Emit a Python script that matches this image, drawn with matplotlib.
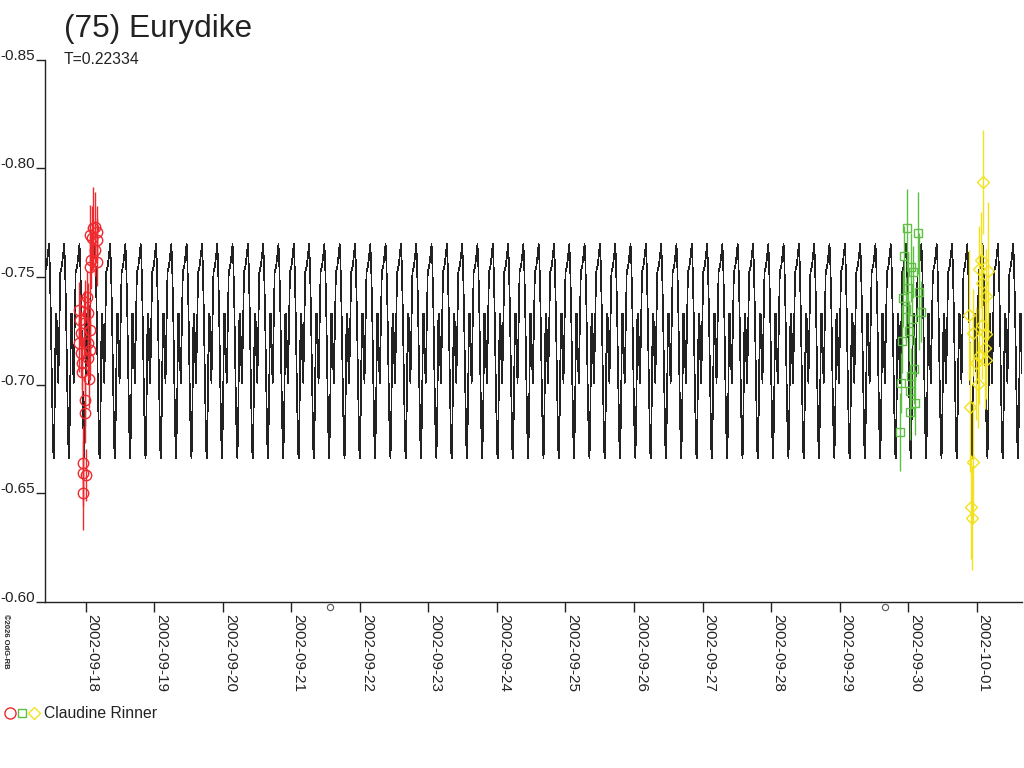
import numpy as np
import matplotlib
matplotlib.use("Agg")
import matplotlib.pyplot as plt
import matplotlib.dates as mdates
from matplotlib.lines import Line2D

plt.rcParams['font.family'] = ['Liberation Sans', 'DejaVu Sans']
plt.rcParams['axes.unicode_minus'] = False

# ---------------- data ----------------
title = "(75) Eurydike"
period_label = "T=0.22334"
observer = "Claudine Rinner"
base_date = np.datetime64('2002-09-18T00:00')

period = 0.22334          # days
epoch_peak = 1.0257       # days after base_date (a maximum of the model)

# one period of the model light-curve (phase, magnitude)
model_phase = [0.00, 0.05, 0.12, 0.20, 0.28, 0.32, 0.38, 0.45, 0.50,
               0.56, 0.62, 0.68, 0.75, 0.85, 0.93]
model_mag = [-0.765, -0.757, -0.735, -0.700, -0.670, -0.666, -0.690, -0.733, -0.733,
             -0.712, -0.701, -0.725, -0.752, -0.755, -0.760]

# session 1 (red circles), time in days after base_date
red_t = [0.102, 0.136, 0.063, 0.160, 0.087, 0.169, 0.136, 0.073, 0.169, 0.063,
         0.015, -0.010, -0.093, 0.038, -0.083, -0.025, 0.063, -0.073, 0.038, -0.093,
         0.063, -0.073, 0.038, -0.058, -0.058, 0.052, -0.010, -0.010, -0.044, -0.035,
         0.004, -0.035]
red_mag = [-0.7723, -0.7730, -0.7692, -0.7707, -0.7677, -0.7669, -0.7623, -0.7577,
           -0.7569, -0.7546, -0.7407, -0.7384, -0.7346, -0.7331, -0.7300, -0.7284,
           -0.7253, -0.7238, -0.7192, -0.7192, -0.7161, -0.7146, -0.7123, -0.7100,
           -0.7061, -0.7026, -0.6930, -0.6872, -0.6641, -0.6592, -0.6584, -0.6500]
red_err = [0.019, 0.016, 0.014, 0.012, 0.015, 0.010, 0.012, 0.013, 0.011, 0.014,
           0.012, 0.010, 0.013, 0.014, 0.012, 0.015, 0.011, 0.010, 0.012, 0.013,
           0.014, 0.011, 0.010, 0.012, 0.011, 0.013, 0.012, 0.014, 0.017, 0.015,
           0.012, 0.017]

# session 2 (green squares)
green_t = [11.983, 12.147, 11.943, 12.041, 12.064, 11.929, 12.161, 12.187, 12.055,
           11.910, 12.089, 12.041, 11.895, 12.031, 12.104, 12.026, 11.880,
           12.000, 12.015, 11.965]
green_mag = [-0.7726, -0.7703, -0.7595, -0.7543, -0.7523, -0.7400, -0.7430, -0.7338,
             -0.7304, -0.7204, -0.7072, -0.7041, -0.7010, -0.6973, -0.6918, -0.6876,
             -0.6784, -0.7450, -0.7250, -0.7350]
green_err = [0.018, 0.019, 0.014, 0.016, 0.012, 0.013, 0.027, 0.014, 0.012, 0.015,
             0.016, 0.013, 0.014, 0.012, 0.015, 0.013, 0.018, 0.016, 0.014, 0.015]

# session 3 (yellow diamonds)
yellow_t = [13.099, 13.061, 13.036, 13.172, 13.076, 13.143, 12.891, 13.076, 12.948,
            13.137, 13.127, 13.036, 13.143, 12.988, 13.012, 12.905, 12.939, 12.915,
            12.930]
yellow_mag = [-0.7935, -0.7577, -0.7534, -0.7526, -0.7469, -0.7410, -0.7323, -0.7277,
              -0.7241, -0.7235, -0.7169, -0.7133, -0.7115, -0.7100, -0.7003, -0.6897,
              -0.6645, -0.6438, -0.6384]
yellow_err = [0.024, 0.022, 0.020, 0.032, 0.018, 0.022, 0.030, 0.025, 0.020, 0.024,
              0.028, 0.022, 0.018, 0.026, 0.020, 0.030, 0.028, 0.024, 0.024]

# small session markers below the time axis
marker_t = [3.561, 11.665]

# axis ranges / ticks
x_range = [-0.594, 13.661]
y_ticks = [-0.85, -0.80, -0.75, -0.70, -0.65, -0.60]
y_tick_labels = ["-0.85", "-0.80", "-0.75", "-0.70", "-0.65", "-0.60"]
date_ticks = ['2002-09-18', '2002-09-19', '2002-09-20', '2002-09-21', '2002-09-22',
              '2002-09-23', '2002-09-24', '2002-09-25', '2002-09-26', '2002-09-27',
              '2002-09-28', '2002-09-29', '2002-09-30', '2002-10-01']

# ---------------- styling ----------------
INK = '#222222'
RED = '#ee2a2f'
GREEN = '#5fbf45'
YELLOW = '#f2e21e'

base = mdates.date2num(base_date)

def to_num(t):
    return base + np.asarray(t, dtype=float)

fig = plt.figure(figsize=(10.24, 7.68), dpi=100)
fig.patch.set_facecolor('white')
W, H = 1024.0, 768.0
ax = fig.add_axes([45 / W, (H - 601.7) / H, (1022 - 45) / W, (601.7 - 60) / H])

# model curve tiled over the whole time range
n_first = int(np.floor((x_range[0] - epoch_peak) / period)) - 1
n_last = int(np.ceil((x_range[1] - epoch_peak) / period)) + 1
cycles = np.arange(n_first, n_last + 1)
ph = np.asarray(model_phase)
mt = (epoch_peak + (cycles[:, None] + ph[None, :]) * period).ravel()
mm = np.tile(np.asarray(model_mag), len(cycles))
ax.plot(to_num(mt), mm, color=INK, lw=0.5, antialiased=False, zorder=2)

# observations
ax.errorbar(to_num(red_t), red_mag, yerr=red_err, fmt='o', ms=7.5, mfc='none',
            mec=RED, mew=1.0, ecolor=RED, elinewidth=1.0, capsize=0, zorder=3)
ax.errorbar(to_num(green_t), green_mag, yerr=green_err, fmt='s', ms=6.0, mfc='none',
            mec=GREEN, mew=1.0, ecolor=GREEN, elinewidth=1.0, capsize=0, zorder=3)
ax.errorbar(to_num(yellow_t), yellow_mag, yerr=yellow_err, fmt='D', ms=6.0, mfc='none',
            mec=YELLOW, mew=1.0, ecolor=YELLOW, elinewidth=1.0, capsize=0, zorder=3)

# small markers under axis
ax.plot(to_num(marker_t), [-0.5975] * len(marker_t), 'o', ms=4.5, mfc='none',
        mec='#555555', mew=0.8, clip_on=False, zorder=4)

ax.set_xlim(to_num(x_range))
ax.set_ylim(-0.60, -0.85)

for s in ['top', 'right']:
    ax.spines[s].set_visible(False)
for s in ['left', 'bottom']:
    ax.spines[s].set_color(INK)
    ax.spines[s].set_linewidth(1.0)

ax.set_yticks(y_ticks)
ax.set_yticklabels(y_tick_labels)
ax.tick_params(axis='y', length=6.5, width=1.0, color=INK, pad=0.8,
               labelsize=11, labelcolor=INK, direction='out')
for lab in ax.get_yticklabels():
    lab.set_verticalalignment('baseline')

ax.set_xticks(mdates.date2num(np.array(date_ticks, dtype='datetime64[D]')))
ax.set_xticklabels(date_ticks, rotation=-90, ha='left', va='top')
ax.tick_params(axis='x', length=7.5, width=1.0, color=INK, pad=1.0,
               labelsize=11, labelcolor=INK, direction='out')

# texts
fig.text(64 / W, 1 - 37.5 / H, title, fontsize=22.8, color=INK, va='baseline', ha='left')
fig.text(64 / W, 1 - 63.5 / H, period_label, fontsize=11.3, color=INK, va='baseline', ha='left')
fig.text(1.5 / W, 1 - 614 / H, "\u00a92026 OdG-RB", fontsize=5.5, fontweight='bold',
         color=INK, rotation=-90, ha='left', va='top')

# legend
ly = 1 - 713 / H
fig.add_artist(Line2D([10 / W], [ly], marker='o', ms=8, mfc='none', mec=RED, mew=1.0,
                      transform=fig.transFigure))
fig.add_artist(Line2D([22 / W], [ly], marker='s', ms=6, mfc='none', mec=GREEN, mew=1.0,
                      transform=fig.transFigure))
fig.add_artist(Line2D([34 / W], [ly], marker='D', ms=6, mfc='none', mec=YELLOW, mew=1.0,
                      transform=fig.transFigure))
fig.text(44 / W, ly, observer, fontsize=11.3, color=INK, va='center', ha='left')

fig.savefig('out.png', dpi=100, facecolor='white')
